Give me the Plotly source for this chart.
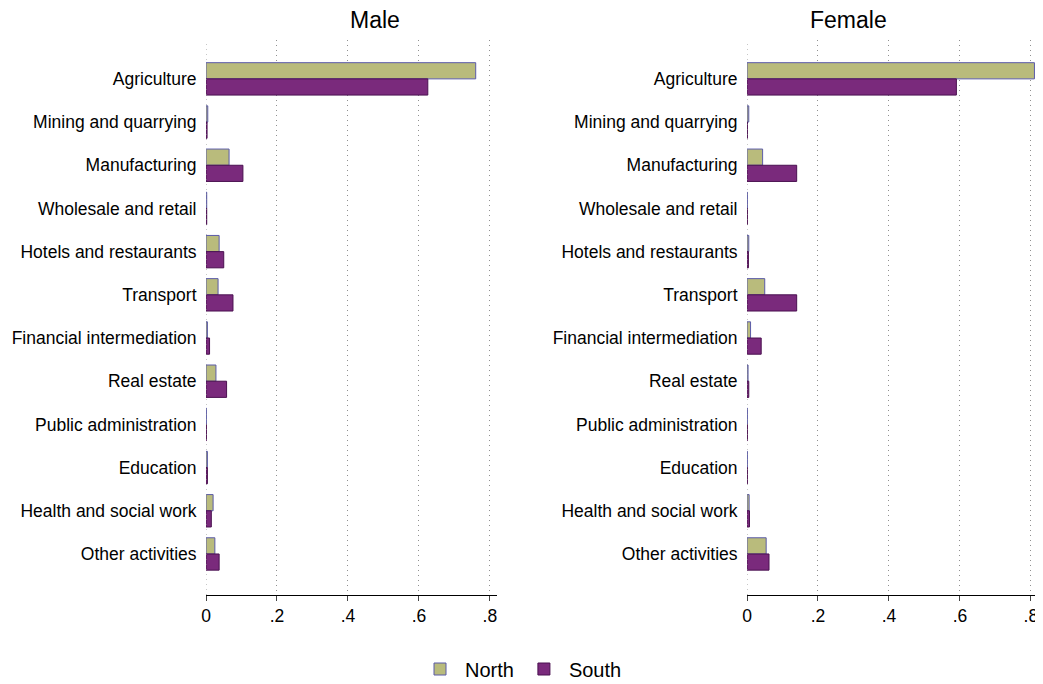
import plotly.graph_objects as go

sectors = ["Agriculture", "Mining and quarrying", "Manufacturing", "Wholesale and retail",
           "Hotels and restaurants", "Transport", "Financial intermediation", "Real estate",
           "Public administration", "Education", "Health and social work", "Other activities"]

male_north = [0.76, 0.005, 0.065, 0.002, 0.037, 0.034, 0.004, 0.028, 0.001, 0.004, 0.02, 0.025]
male_south = [0.625, 0.003, 0.104, 0.002, 0.05, 0.076, 0.01, 0.058, 0.001, 0.004, 0.015, 0.037]
female_north = [0.81, 0.005, 0.044, 0.001, 0.005, 0.05, 0.01, 0.003, 0.001, 0.001, 0.006, 0.054]
female_south = [0.59, 0.001, 0.14, 0.001, 0.004, 0.14, 0.04, 0.005, 0.001, 0.001, 0.007, 0.062]

north_color = "#b9bb7c"
south_color = "#7a2a7c"

fig = go.Figure()
panels = [(male_north, male_south, "x", "y"), (female_north, female_south, "x2", "y2")]
for i, (n, s, xa, ya) in enumerate(panels):
    fig.add_trace(go.Bar(y=sectors, x=n, orientation="h", name="North", xaxis=xa, yaxis=ya,
                         marker=dict(color=north_color, line=dict(color="#5b5ba8", width=1)),
                         showlegend=(i == 0)))
    fig.add_trace(go.Bar(y=sectors, x=s, orientation="h", name="South", xaxis=xa, yaxis=ya,
                         marker=dict(color=south_color, line=dict(color="#4a1050", width=1)),
                         showlegend=(i == 0)))

W, H = 1043, 684
OX, OY = 8, 8  # page offset of the figure


def px_x(p):
    return (p - OX) / W


def px_y(p):
    return (H - (p - OY)) / H


xaxis_style = dict(range=[0, 0.82], tickvals=[0, 0.2, 0.4, 0.6, 0.8],
                   ticktext=["0", ".2", ".4", ".6", ".8"], showgrid=True,
                   gridcolor="#909090", griddash="1px,4px", gridwidth=1, automargin=False,
                   showline=True, linecolor="black", ticks="outside", ticklen=5,
                   zeroline=False, tickfont=dict(size=17.5, color="black"))
yaxis_style = dict(range=[11.95, -0.9], showline=False, ticks="outside", ticklen=5,
                   tickcolor="white", automargin=False, tickfont=dict(size=17.5, color="black"))

fig.update_layout(
    width=W, height=H,
    paper_bgcolor="white", plot_bgcolor="white",
    font=dict(family="Liberation Sans, Arial, sans-serif", color="black"),
    margin=dict(l=0, r=0, t=0, b=0),
    barmode="group", bargap=0.25, bargroupgap=0,
    xaxis=dict(domain=[px_x(206), px_x(497)], anchor="y", **xaxis_style),
    xaxis2=dict(domain=[px_x(747), px_x(1038)], anchor="y2", **xaxis_style),
    yaxis=dict(domain=[px_y(595), px_y(40)], anchor="x", **yaxis_style),
    yaxis2=dict(domain=[px_y(595), px_y(40)], anchor="x2", **yaxis_style),
    legend=dict(orientation="h", x=px_x(521), xanchor="center", y=px_y(669), yanchor="middle",
                font=dict(size=20), itemwidth=40),
    annotations=[
        dict(text="Male", x=px_x(348), y=px_y(20), xref="paper", yref="paper", showarrow=False,
             font=dict(size=23), yanchor="middle"),
        dict(text="Female", x=px_x(889), y=px_y(20), xref="paper", yref="paper", showarrow=False,
             font=dict(size=23), yanchor="middle"),
    ],
)

# vertical line at zero in each panel
for xa, ya in [("x", "y"), ("x2", "y2")]:
    fig.add_shape(type="line", xref=xa, yref=f"{ya} domain", x0=0, x1=0, y0=0, y1=1,
                  line=dict(color="#909090", width=1, dash="1px,4px"))

fig.write_html("out.html")
